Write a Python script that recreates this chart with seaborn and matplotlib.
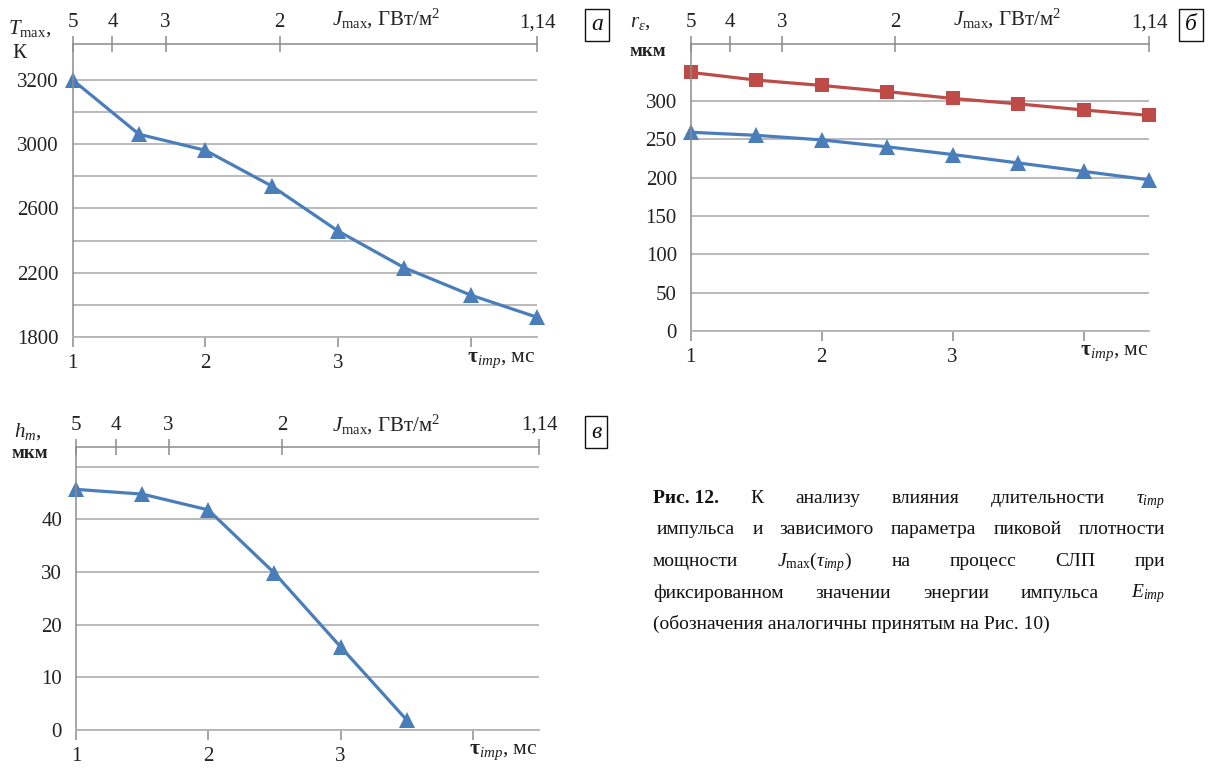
import numpy as np
import pandas as pd
import seaborn as sns
import matplotlib
matplotlib.use("Agg")
import matplotlib.pyplot as plt

# ---------------- data ----------------
tau = [1.0, 1.5, 2.0, 2.5, 3.0, 3.5, 4.0, 4.5]
T_max = [3400, 3062, 2962, 2740, 2460, 2231, 2061, 1923]
T_ticks = [1800, 2000, 2200, 2400, 2600, 2800, 3000, 3200, 3400]
T_ticklabels = ["1800", "", "2200", "", "2600", "", "3000", "", "3200"]

r_red = [337, 327, 320, 312, 303, 296, 288, 281]
r_blue = [259, 255, 249, 240, 230, 219, 208, 197]
r_ticks = [0, 50, 100, 150, 200, 250, 300]
r_ticklabels = ["0", "50", "100", "150", "200", "250", "300"]

tau_h = [1.0, 1.5, 2.0, 2.5, 3.0, 3.5]
h_m = [45.7, 44.8, 41.8, 29.8, 15.8, 1.9]
h_ticks = [0, 10, 20, 30, 40, 50]
h_ticklabels = ["0", "10", "20", "30", "40", ""]

tau_ticks = [1, 2, 3, 4]
tau_ticklabels = ["1", "2", "3", ""]
J_tick_pos = [1.0, 1.3, 1.7, 2.56, 4.5]
J_tick_labels = ["5", "4", "3", "2", "1,14"]

caption_lines = [
    ["Рис. 12.", "К", "анализу", "влияния", "длительности", r"$\tau_{imp}$"],
    ["импульса", "и", "зависимого", "параметра", "пиковой", "плотности"],
    ["мощности", r"$J_{\mathrm{max}}(\tau_{imp})$", "на", "процесс", "СЛП", "при"],
    ["фиксированном", "значении", "энергии", "импульса", r"$E_{imp}$"],
    ["(обозначения аналогичны принятым на Рис. 10)"],
]

# ---------------- style ----------------
sns.set_theme(style="white")
plt.rcParams["font.family"] = ["Liberation Serif", "DejaVu Serif"]
plt.rcParams["mathtext.fontset"] = "custom"
plt.rcParams["mathtext.rm"] = "Liberation Serif"
plt.rcParams["mathtext.it"] = "Liberation Serif:italic"
plt.rcParams["mathtext.bf"] = "Liberation Serif:bold"

BLUE = "#4A7EBB"
RED = "#BE4B48"
GRID = "#b4b4b4"
AXC = "#8c8c8c"
FS = 15
TC = "#222222"

W, H = 1216, 770
fig = plt.figure(figsize=(W / 100, H / 100), dpi=100)
fig.patch.set_facecolor("white")


def px_axes(l, r, t, b):
    return fig.add_axes([l / W, 1 - b / H, (r - l) / W, (b - t) / H])


def ftext(x, y, s, **kw):
    return fig.text(x / W, 1 - y / H, s, **kw)


def style(ax, ylim, yticks, ylabels):
    ax.set_xlim(1, 4.5)
    ax.set_ylim(*ylim)
    ax.set_yticks(yticks)
    ax.set_yticklabels(ylabels)
    ax.set_xticks(tau_ticks)
    ax.set_xticklabels(tau_ticklabels)
    ax.set_xlabel("")
    ax.set_ylabel("")
    ax.grid(axis="y", color=GRID, lw=1.3)
    ax.grid(axis="x", visible=False)
    ax.set_axisbelow(True)
    for s in ["top", "right"]:
        ax.spines[s].set_visible(False)
    ax.spines["left"].set_color(AXC)
    ax.spines["left"].set_linewidth(1.1)
    ax.spines["bottom"].set_color(GRID)
    ax.spines["bottom"].set_linewidth(1.3)
    ax.tick_params(axis="x", direction="out", length=7, width=1.1, color=AXC,
                   labelsize=FS, pad=5, labelcolor=TC)
    ax.tick_params(axis="y", direction="out", length=7, width=1.3, color=GRID,
                   labelsize=FS, pad=3, labelcolor=TC)
    for ln in ax.lines:
        ln.set_clip_on(False)
    # top J axis
    tw = ax.twiny()
    tw.set_xlim(1, 4.5)
    tw.set_xticks(J_tick_pos)
    tw.set_xticklabels(J_tick_labels)
    for s in ["left", "right", "bottom"]:
        tw.spines[s].set_visible(False)
    tw.spines["top"].set_color(AXC)
    tw.spines["top"].set_linewidth(1.1)
    tw.tick_params(axis="x", direction="inout", length=11, width=1.1, color=AXC,
                   labelsize=FS, pad=3, labelcolor=TC)
    tw.grid(False)
    # tau label at tick 4
    ax.text(3.97, -0.045, r"$\mathbf{\tau}_{imp}$, мс", transform=ax.get_xaxis_transform(),
            ha="left", va="top", fontsize=FS + 0.5, color=TC)
    return tw


# ---------------- panel а ----------------
ax_a = px_axes(72.7, 537, 44, 337)
sns.lineplot(x=tau, y=T_max, ax=ax_a, color=BLUE, marker="^", markersize=11,
             markeredgewidth=0, lw=2.3)
style(ax_a, (1800, 3624), T_ticks, T_ticklabels)

# ---------------- panel б ----------------
ax_b = px_axes(690.7, 1149, 44, 331)
sns.lineplot(x=tau, y=r_red, ax=ax_b, color=RED, marker="s", markersize=10,
             markeredgewidth=0, lw=2.3)
sns.lineplot(x=tau, y=r_blue, ax=ax_b, color=BLUE, marker="^", markersize=11,
             markeredgewidth=0, lw=2.3)
style(ax_b, (0, 374), r_ticks, r_ticklabels)

# ---------------- panel в ----------------
ax_c = px_axes(76, 539, 446.7, 730)
sns.lineplot(x=tau_h, y=h_m, ax=ax_c, color=BLUE, marker="^", markersize=11,
             markeredgewidth=0, lw=2.3)
style(ax_c, (0, 53.8), h_ticks, h_ticklabels)

# ---------------- axis titles ----------------
ftext(8, 29, r"$T_{\mathrm{max}}$,", fontsize=FS, ha="left", va="center", color=TC)
ftext(12, 54, "К", fontsize=FS, ha="left", va="center", color=TC)
ftext(630, 23, r"$r_{\varepsilon}$,", fontsize=FS, ha="left", va="center", color=TC)
ftext(630, 51, "мкм", fontsize=13.5, fontweight="bold", ha="left", va="center", color=TC)
ftext(14, 432, r"$h_{m}$,", fontsize=FS, ha="left", va="center", color=TC)
ftext(12, 454, "мкм", fontsize=13.5, fontweight="bold", ha="left", va="center", color=TC)

for (x, y) in [(332, 19), (953, 19), (332, 425)]:
    ftext(x, y, r"$J_{\mathrm{max}}$, ГВт/м$^2$", fontsize=FS, ha="left", va="center", color=TC)

# ---------------- panel letters ----------------
for (x, y, s) in [(597, 25, "а"), (1191, 25, "б"), (596, 432, "в")]:
    ftext(x, y, s, fontsize=17, style="italic", ha="center", va="center", color="#111111",
          bbox=dict(boxstyle="square,pad=0.25", fc="white", ec="#111111", lw=1.0))

# ---------------- caption (justified) ----------------
fig.canvas.draw()
renderer = fig.canvas.get_renderer()
x0, x1 = 653, 1165
y0, dy = 503, 31.5
CFS = 14
for i, words in enumerate(caption_lines):
    y = y0 + i * dy
    objs = []
    for w in words:
        kw = dict(fontsize=CFS, ha="left", va="baseline", color="#111111")
        if w == "Рис. 12.":
            kw["fontweight"] = "bold"
        objs.append(ftext(0, y, w, **kw))
    widths = [o.get_window_extent(renderer).width for o in objs]
    start = x0 + (4 if i == 1 else 0)
    if len(objs) > 1 and i < len(caption_lines) - 1:
        gap = (x1 - start - sum(widths)) / (len(objs) - 1)
    else:
        gap = 0
    xx = start
    for o, wd in zip(objs, widths):
        o.set_x(xx / W)
        xx += wd + gap

fig.savefig("out.png", dpi=100, facecolor="white")
